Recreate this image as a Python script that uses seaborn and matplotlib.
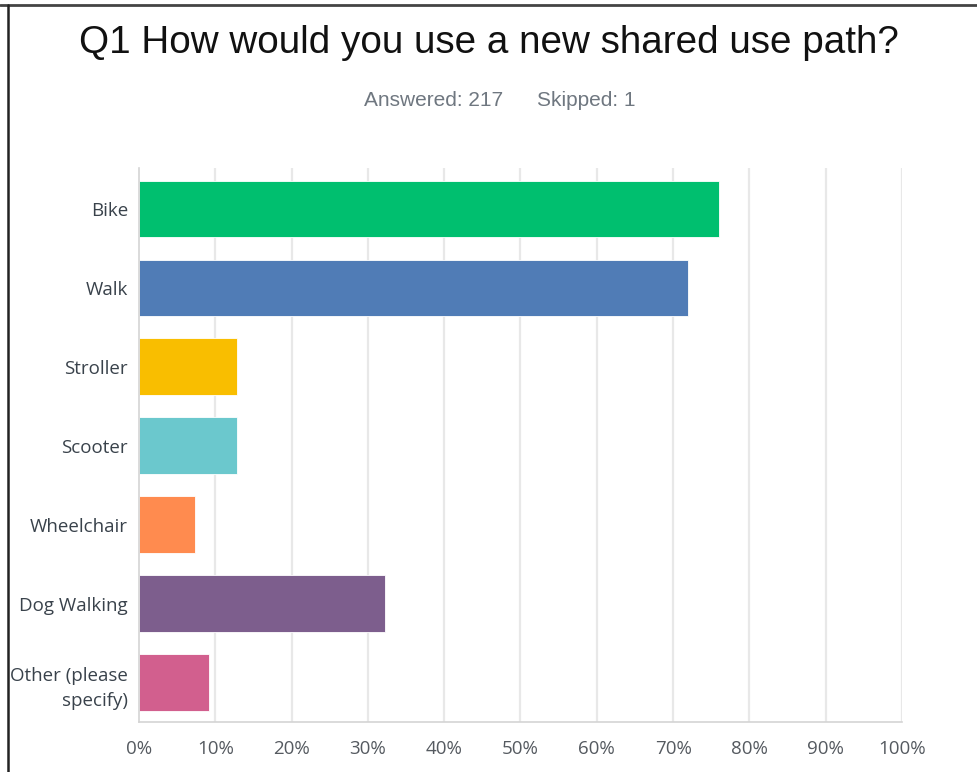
import matplotlib
matplotlib.use("Agg")
import matplotlib.pyplot as plt
import seaborn as sns
import pandas as pd
from matplotlib.lines import Line2D

categories = ["Bike", "Walk", "Stroller", "Scooter", "Wheelchair", "Dog Walking", "Other (please\nspecify)"]
percents = [76.04, 71.89, 12.90, 12.90, 7.37, 32.26, 9.22]
colors = ["#00BF6F", "#507CB6", "#F9BE00", "#6BC8CD", "#FF8B4F", "#7D5E8D", "#D25F8E"]
xticks = [0, 10, 20, 30, 40, 50, 60, 70, 80, 90, 100]
xtick_labels = [f"{t}%" for t in xticks]
title = "Q1 How would you use a new shared use path?"
answered = "Answered: 217"
skipped = "Skipped: 1"

df = pd.DataFrame({"option": categories, "pct": percents})

sns.set_theme(style="white")
plt.rcParams["font.family"] = ["Open Sans", "DejaVu Sans"]

fig = plt.figure(figsize=(9.78, 7.72), dpi=100)
ax = fig.add_axes([139/978, 1-722/772, (902-139)/978, (722-168)/772])

sns.barplot(data=df, x="pct", y="option", hue="option", palette=colors, orient="h",
            width=0.72, legend=False, ax=ax, saturation=1,
            edgecolor="white", linewidth=0.6)

ax.set_xlim(0, 100)
ax.set_ylim(6.5, -0.52)
ax.set_xticks(xticks)
ax.set_xticklabels(xtick_labels, fontsize=13.5, color="#555a60")
ax.set_yticks(range(len(categories)))
ax.set_yticklabels(categories, fontsize=13.5, color="#39424b", ha="right", linespacing=1.5)
ax.tick_params(axis="y", length=0, pad=8)
ax.tick_params(axis="x", length=0, pad=13)
ax.set_xlabel("")
ax.set_ylabel("")
for t in xticks[1:]:
    ax.axvline(t, color="#e8e8e8", linewidth=1.6, zorder=0)
ax.set_axisbelow(True)
for s in ["top", "right"]:
    ax.spines[s].set_visible(False)
ax.spines["left"].set_color("#d4d4d4")
ax.spines["left"].set_linewidth(1.2)
ax.spines["bottom"].set_color("#d4d4d4")
ax.spines["bottom"].set_linewidth(1.2)

fig.text(0.5, 1-43/772, title, ha="center", va="center", fontsize=27.8,
         family=["Liberation Sans", "DejaVu Sans"], color="#111111")
fig.text(433.5/978, 1-101/772, answered, ha="center", va="center", fontsize=15,
         family=["Liberation Sans", "DejaVu Sans"], color="#6f7780")
fig.text(586.5/978, 1-101/772, skipped, ha="center", va="center", fontsize=15,
         family=["Liberation Sans", "DejaVu Sans"], color="#6f7780")

fig.add_artist(Line2D([0, 1], [1-5/772, 1-5/772], transform=fig.transFigure, color="#444444", linewidth=2))
fig.add_artist(Line2D([8/978, 8/978], [0, 1-5/772], transform=fig.transFigure, color="#222222", linewidth=1.8))

fig.savefig("out.png", dpi=100, facecolor="white")
